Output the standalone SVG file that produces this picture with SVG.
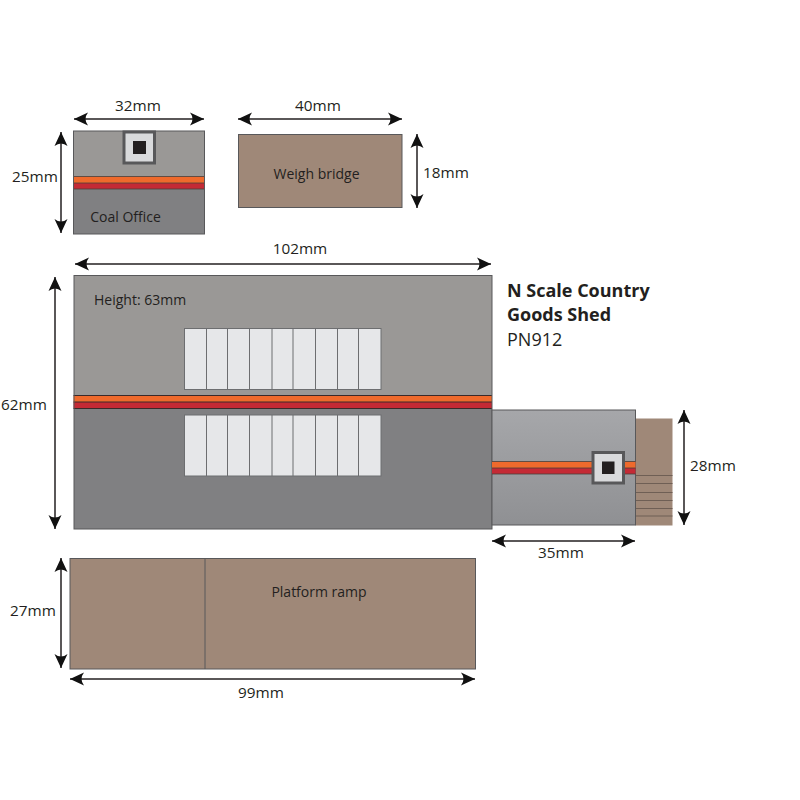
<svg xmlns="http://www.w3.org/2000/svg" width="800" height="800" viewBox="0 0 800 800">
<style>
text{font-family:"Open Sans","Liberation Sans",sans-serif;font-size:14px;fill:#231f20}
.m{text-anchor:middle}
.d{font-size:15.300px}
.t{font-weight:700;font-size:18px}
.e{stroke:#58585a;stroke-width:1}
.win{fill:#e6e7e9;stroke:#6d6e70;stroke-width:1}
.l{stroke:#6d6e70;stroke-width:1;fill:none}
.o{fill:#ef6a2c}.r{fill:#c42a35}
.b{stroke:#4a3f3a;stroke-width:.8;fill:none}
.a{stroke:#231f20;stroke-width:1.500;fill:none;marker-start:url(#h);marker-end:url(#h)}
.hatch{fill:#d9dadc;stroke:#58585a;stroke-width:3}
.step{stroke:#6f5f55;stroke-width:1.200;fill:none}
</style>
<defs>
<marker id="h" markerUnits="userSpaceOnUse" markerWidth="16" markerHeight="14" refX="15" refY="7" orient="auto-start-reverse" viewBox="0 0 16 14"><path d="M15 7L1 .5Q6 7 1 13.500Z" fill="#111"/></marker>
<linearGradient id="ann" x1="0" y1="0" x2="0" y2="1"><stop offset="0" stop-color="#a6a7aa"/><stop offset="1" stop-color="#8f9093"/></linearGradient>
</defs>
<g id="coal-office">
<rect x="73.500" y="131" width="131" height="46" fill="#9a9896"/>
<rect x="73.500" y="189" width="131" height="45" fill="#808082"/>
<rect x="73.500" y="176.500" width="131" height="6.500" class="o"/>
<rect x="73.500" y="183" width="131" height="6" class="r"/>
<path d="M73.500 176.500H204.500M73.500 183H204.500M73.500 189H204.500" class="b"/>
<rect x="73.500" y="131" width="131" height="103" fill="none" stroke="#58585a"/>
<rect x="124" y="132" width="30.500" height="31" class="hatch"/>
<rect x="133" y="141" width="13" height="13" fill="#231f20"/>
<text x="125.500" y="222" class="m">Coal Office</text>
</g>
<g id="weigh-bridge">
<rect x="238.500" y="134.500" width="163.500" height="73" fill="#9f8878" class="e"/>
<text x="316.500" y="179" class="m">Weigh bridge</text>
</g>
<g id="goods-shed">
<rect x="74" y="275.500" width="418" height="120" fill="#9a9896"/>
<rect x="74" y="408" width="418" height="121" fill="#808082"/>
<rect x="73.500" y="395.500" width="418.500" height="6.500" class="o"/>
<rect x="73.500" y="402" width="418.500" height="6.500" class="r"/>
<path d="M73.500 395.500H492M73.500 402H492M73.500 408.500H492" stroke="#3a2a2a" stroke-width="1" fill="none"/>
<rect x="74" y="275.500" width="418" height="253.500" fill="none" stroke="#58585a"/>
<rect x="184.500" y="328.500" width="196.500" height="61" class="win"/>
<path d="M206.500 328.500V389.500M227.500 328.500V389.500M249.500 328.500V389.500M272 328.500V389.500M293 328.500V389.500M315.500 328.500V389.500M337.500 328.500V389.500M358.500 328.500V389.500" class="l"/>
<rect x="184.500" y="415" width="196.500" height="61" class="win"/>
<path d="M206.500 415V476M227.500 415V476M249.500 415V476M272 415V476M293 415V476M315.500 415V476M337.500 415V476M358.500 415V476" class="l"/>
<text x="94" y="305">Height: 63mm</text>
</g>
<g id="extension">
<rect x="635.500" y="418.500" width="37" height="107" fill="#9f8878"/>
<path d="M635.500 475.500H672.500M635.500 483.500H672.500M635.500 492.500H672.500M635.500 500.500H672.500M635.500 508.500H672.500M635.500 516H672.500" class="step"/>
<rect x="492" y="410" width="143.500" height="115" fill="url(#ann)" stroke="#58585a"/>
<rect x="492" y="461.500" width="143.500" height="6.500" class="o"/>
<rect x="492" y="468" width="143.500" height="6" class="r"/>
<path d="M492 461.500H635.500M492 468H635.500M492 474H635.500" class="b"/>
<rect x="593" y="452.500" width="30.500" height="30.500" class="hatch"/>
<rect x="602" y="461.500" width="12.500" height="12.500" fill="#231f20"/>
</g>
<g id="platform-ramp">
<rect x="70" y="558.500" width="405.500" height="110.500" fill="#9f8878" class="e"/>
<path d="M205 558.500V669" class="e"/>
<text x="319" y="597" class="m">Platform ramp</text>
</g>
<g id="connectors">
<path class="a" d="M74 119H204"/>
<path class="a" d="M61 132V233"/>
<path class="a" d="M238 119H402"/>
<path class="a" d="M417 134V208"/>
<path class="a" d="M75 264H491"/>
<path class="a" d="M55 277V529"/>
<path class="a" d="M684 410V525"/>
<path class="a" d="M492 541H635"/>
<path class="a" d="M61 558V668"/>
<path class="a" d="M70 679H475"/>
</g>
<g id="labels">
<text x="138" y="111" class="m d">32mm</text>
<text x="35" y="182" class="m d">25mm</text>
<text x="318" y="111" class="m d">40mm</text>
<text x="446" y="178" class="m d">18mm</text>
<text x="300" y="254" class="m d">102mm</text>
<text x="24" y="410" class="m d">62mm</text>
<text x="713" y="471" class="m d">28mm</text>
<text x="561" y="558" class="m d">35mm</text>
<text x="33" y="616" class="m d">27mm</text>
<text x="261" y="698" class="m d">99mm</text>
<text x="507" y="297" class="t">N Scale Country</text>
<text x="507" y="321" class="t">Goods Shed</text>
<text x="507" y="346" style="font-size:18px">PN912</text>
</g>
</svg>
